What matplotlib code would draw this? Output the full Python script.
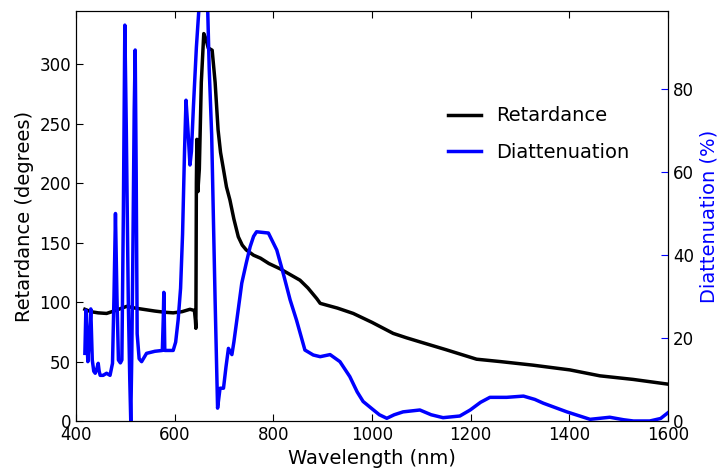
import matplotlib
matplotlib.use('Agg')
import matplotlib.pyplot as plt

# Retardance spectrum (degrees)
ret_nm = [418, 430, 445, 462, 480, 503, 520, 536, 560, 580, 597, 615, 631, 640,
          642, 643, 644, 645, 647, 650, 654, 659, 663, 668, 676, 682, 688, 693,
          698, 705, 712, 720, 729, 737, 745, 760, 774, 791, 814, 835, 854, 870,
          888, 895, 908, 930, 962, 1000, 1043, 1070, 1097, 1150, 1212, 1260, 1326,
          1401, 1462, 1529, 1600]
ret_deg = [94, 92, 91, 90.5, 93, 96.5, 95, 94, 92.5, 91.5, 91, 92, 94, 93,
           85, 78, 200, 237, 193, 212, 285, 326, 322, 314, 312, 285, 245, 226,
           214, 197, 186, 170, 155, 148, 144, 139.5, 137, 132.5, 128, 123, 118.5, 112,
           103, 99, 97.5, 95, 90.5, 83, 73.7, 70, 66.6, 60, 52, 50, 47,
           43, 38, 35, 31]

# Diattenuation spectrum (%)
dia_nm = [418, 420, 422, 424, 427, 430, 433, 436, 439, 442, 445, 447, 449, 455,
          462, 469, 474, 477, 480, 483, 486, 490, 493, 496, 499, 502, 506, 509,
          511, 513, 515, 518, 520, 522, 524, 528, 533, 543, 560, 575, 577, 578,
          579, 580, 597, 602, 607, 612, 616, 620, 623, 627, 631, 634, 638, 644,
          649, 655, 662, 667, 670, 675, 682, 687, 690, 692, 699, 704, 709, 716,
          720, 726, 736, 745, 753, 760, 766, 790, 807, 820, 834, 847, 864, 881,
          895, 915, 935, 955, 970, 982, 1003, 1015, 1030, 1045, 1063, 1097, 1120,
          1144, 1178, 1199, 1220, 1239, 1273, 1307, 1330, 1347, 1395, 1442, 1482,
          1510, 1530, 1563, 1585, 1600]
dia_pct = [16.3, 26.7, 20, 14.3, 20, 27, 14.7, 12, 11.5, 12.5, 13.9, 12, 11, 11,
           11.5, 11, 13.9, 30, 50, 30, 14.7, 14, 14.7, 50, 95.4, 70, 29, 10,
           0, 15, 37, 75, 89.4, 60, 21, 15, 14.3, 16.3, 16.8, 17, 25, 31,
           25, 17, 17, 19, 24.3, 32, 45, 65, 77.3, 70, 61.7, 65, 75.7, 90,
           99, 105, 104, 99, 85, 69, 29, 3.1, 6, 7.9, 7.9, 13, 17.5, 16,
           19, 24.3, 33.2, 38, 42, 44.5, 45.6, 45.3, 41.2, 35.6, 29.2, 24.3, 17.1, 15.9,
           15.5, 16, 14.3, 10.7, 7, 4.7, 2.65, 1.5, 0.65, 1.5, 2.2, 2.65, 1.5,
           0.8, 1.2, 2.65, 4.5, 5.7, 5.7, 6, 5.2, 4.3, 2.2, 0.4, 0.9,
           0.3, 0, 0, 0.6, 2]

fig = plt.figure(figsize=(7.21, 4.75), dpi=100)
ax = fig.add_axes([0.1054, 0.1137, 0.8211, 0.8631])
ax2 = ax.twinx()

l1, = ax.plot(ret_nm, ret_deg, color='black', lw=2.5, label='Retardance')
l2, = ax2.plot(dia_nm, dia_pct, color='blue', lw=2.5, label='Diattenuation')

ax.set_xlim(400, 1600)
ax.set_ylim(0, 345)
ax2.set_ylim(0, 98.8)
ax2.set_yticks([0, 20, 40, 60, 80])

ax.set_xlabel('Wavelength (nm)', fontsize=14)
ax.set_ylabel('Retardance (degrees)', fontsize=14)
ax2.set_ylabel('Diattenuation (%)', fontsize=14, color='blue')

ax.tick_params(axis='x', direction='in', top=True, labelsize=12, length=5)
ax.tick_params(axis='y', direction='in', labelsize=12, length=5)
ax2.tick_params(axis='y', direction='in', labelsize=12, length=5, color='blue')

ax.legend(handles=[l1, l2], loc='upper right', bbox_to_anchor=(0.965, 0.81),
          frameon=False, fontsize=14, handlelength=1.7, labelspacing=0.9)

fig.savefig('out.png', dpi=100)
